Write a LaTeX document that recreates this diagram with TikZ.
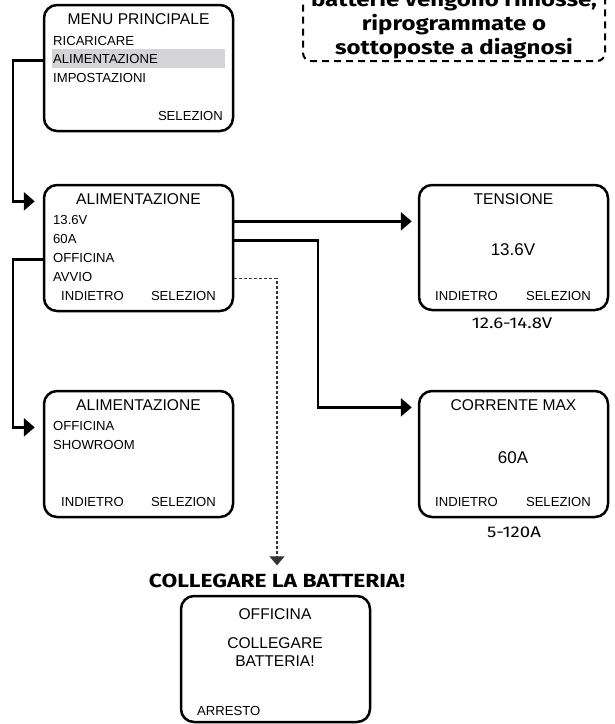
\documentclass[tikz,border=0pt]{standalone}
\usepackage{fontspec}
\setmainfont{Liberation Sans}
\newfontfamily\wide{Fira Sans}[FakeStretch=1.2]
\usetikzlibrary{arrows.meta}
\definecolor{selgrey}{RGB}{212,212,214}
\tikzset{
 screen/.style={draw,line width=2.5pt,rounded corners=13pt,minimum width=189pt,minimum height=126pt,inner sep=0pt},
 title/.style={anchor=base,inner sep=0pt,font=\fontsize{15.6}{18}\selectfont},
 item/.style={anchor=base west,inner sep=0pt,font=\fontsize{13.1}{15}\selectfont},
 itemr/.style={item,anchor=base east},
 valtext/.style={anchor=base,inner sep=0pt,font=\fontsize{17}{20}\selectfont},
 rangetext/.style={anchor=base,inner sep=0pt,font=\wide\fontsize{15.5}{18}\selectfont},
 warntext/.style={anchor=base,inner sep=0pt,font=\wide\bfseries\fontsize{19}{22}\selectfont},
 notetext/.style={anchor=base,inner sep=0pt,font=\wide\bfseries\fontsize{20}{24}\selectfont},
 flow/.style={line width=2.8pt,-{Triangle[length=11pt,width=18pt]},shorten >=8pt},
 hint/.style={draw=black!80,line width=1.3pt,dash pattern=on 3pt off 2pt,-{Triangle[length=9pt,width=15pt]},shorten >=8pt},
}
\begin{document}
\begin{tikzpicture}[x=1pt,y=-1pt]
 \useasboundingbox (0,0) rectangle (615,724);
 % note in the corner
 \node[draw,line width=2pt,dash pattern=on 7pt off 5pt,rounded corners=8pt,minimum width=302pt,minimum height=90pt,inner sep=0pt] (note) at (454,16) {};
 \node[notetext] (note1) at (454,6) {batterie vengono rimosse,};
 \node[notetext] (note2) at (454,30) {riprogrammate o};
 \node[notetext] (note3) at (454,54) {sottoposte a diagnosi};
 % main menu
 \node[screen] (menu) at (138.5,68) {};
 \node[fill=selgrey,minimum width=173pt,minimum height=19pt,inner sep=0pt,anchor=north west] (selbar) at (52,49) {};
 \node[title] (menuT) at (138.5,24) {MENU PRINCIPALE};
 \node[item] (selR) at (53,45) {RICARICARE};
 \node[item] (selA) at (53,63) {ALIMENTAZIONE};
 \node[item] (selI) at (53,82) {IMPOSTAZIONI};
 \node[itemr] (menuS) at (223,120) {SELEZION};
 % power menu
 \node[screen] (alim) at (138.5,248) {};
 \node[title] (alimT) at (138.5,204) {ALIMENTAZIONE};
 \node[item] (v1) at (53,224) {13.6V};
 \node[item] (a1) at (53,243) {60A};
 \node[item] (o1) at (53,262) {OFFICINA};
 \node[item] (avvio) at (53,281) {AVVIO};
 \node[item] (alimB) at (61,300) {INDIETRO};
 \node[itemr] (alimS) at (216,300) {SELEZION};
 % voltage
 \node[screen,minimum height=125pt] (tens) at (513.5,247.5) {};
 \node[title] (tensT) at (513.5,204) {TENSIONE};
 \node[valtext] (tensV) at (513,255) {13.6V};
 \node[item] (tensB) at (435,300) {INDIETRO};
 \node[itemr] (tensS) at (591,300) {SELEZION};
 \node[rangetext] (tensR) at (512,328) {12.6-14.8V};
 % mode
 \node[screen] (alim2) at (138.5,454) {};
 \node[title] (alim2T) at (138.5,410) {ALIMENTAZIONE};
 \node[item] (o2) at (53,430) {OFFICINA};
 \node[item] (show) at (53,449) {SHOWROOM};
 \node[item] (alim2B) at (61,506) {INDIETRO};
 \node[itemr] (alim2S) at (216,506) {SELEZION};
 % current
 \node[screen] (corr) at (513.5,454) {};
 \node[title] (corrT) at (513.5,410) {CORRENTE MAX};
 \node[valtext] (corrV) at (513,463) {60A};
 \node[item] (corrB) at (435,506) {INDIETRO};
 \node[itemr] (corrS) at (591,506) {SELEZION};
 \node[rangetext] (corrR) at (514,537) {5-120A};
 % workshop
 \node[warntext] (warn) at (277,587) {COLLEGARE LA BATTERIA!};
 \node[screen] (offi) at (275.5,659) {};
 \node[title] (offiT) at (275,619) {OFFICINA};
 \node[title] (offi1) at (275,648) {COLLEGARE};
 \node[title] (offi2) at (275,666) {BATTERIA!};
 \node[item] (offiB) at (197,715) {ARRESTO};
 % connectors
 \coordinate (jL) at (13,0);
 \coordinate (jR) at (318,0);
 \draw[flow] (menu.west |- selA.mid) -- (jL |- selA.mid) -- (jL |- alimT.mid) -- (alim.west |- alimT.mid);
 \draw[flow,shorten >=6pt] (alim.east |- v1.mid) -- (tens.west |- v1.mid);
 \draw[flow,shorten >=6pt] (alim.east |- a1.mid) -- (jR |- a1.mid) -- (jR |- corrT.mid) -- (corr.west |- corrT.mid);
 \draw[flow] (alim.west |- o1.mid) -- (jL |- o1.mid) -- (jL |- o2.mid) -- (alim2.west |- o2.mid);
 \draw[hint] (alim.east |- avvio.mid) -| (warn.north);
\end{tikzpicture}
\end{document}
